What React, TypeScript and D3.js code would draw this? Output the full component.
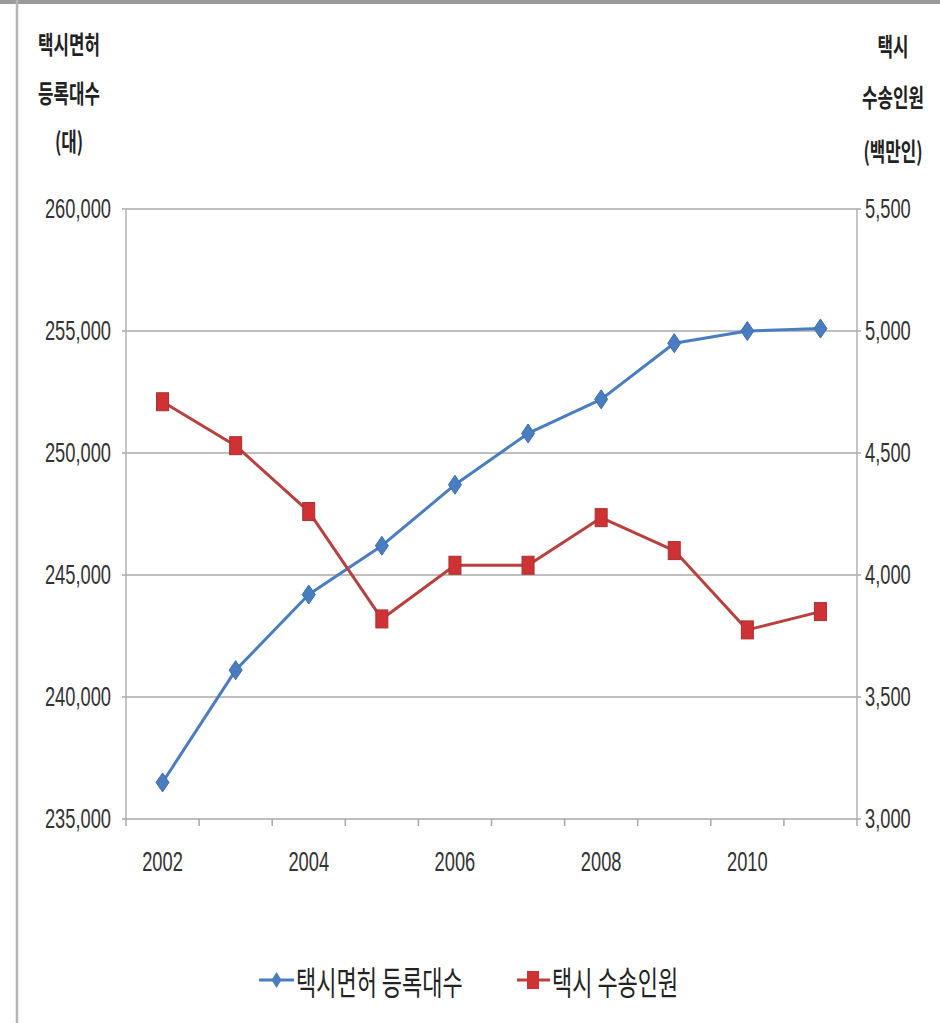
import React from "react";
import * as d3 from "d3";

const years = [2002, 2003, 2004, 2005, 2006, 2007, 2008, 2009, 2010, 2011];
const yearLabels = [2002, 2004, 2006, 2008, 2010];
const registered = [236500, 241100, 244200, 246200, 248700, 250800, 252200, 254500, 255000, 255100];
const passengers = [4710, 4530, 4260, 3820, 4040, 4040, 4235, 4100, 3775, 3850];
const leftTicks = [235000, 240000, 245000, 250000, 255000, 260000];
const rightTicks = [3000, 3500, 4000, 4500, 5000, 5500];
const leftTitle = ["택시면허", "등록대수", "(대)"];
const rightTitle = ["택시", "수송인원", "(백만인)"];
const seriesNames = ["택시면허 등록대수", "택시 수송인원"];

const W = 940;
const H = 1023;
const plot = { left: 126, right: 857, top: 209, bottom: 819 };
const SY = 1.5;
const NUM_FONT = "'Liberation Sans', Arial, sans-serif";
const KR_FONT = "'Noto Sans CJK KR', 'Noto Sans', sans-serif";
const BLUE = "#4a7cc0";
const RED_LINE = "#b8403f";
const RED = "#cf3234";

function T({ x, y, anchor = "middle", size, font, children, fill = "#333", weight = "normal" }: any) {
  return (
    <text
      transform={`translate(${x},${y}) scale(1,${SY})`}
      textAnchor={anchor}
      dominantBaseline="central"
      fontSize={size}
      fontFamily={font}
      fontWeight={weight}
      fill={fill}
    >
      {children}
    </text>
  );
}

export default function App() {
  const x = d3.scaleBand<number>().domain(years).range([plot.left, plot.right]);
  const yL = d3.scaleLinear().domain([235000, 260000]).range([plot.bottom, plot.top]);
  const yR = d3.scaleLinear().domain([3000, 5500]).range([plot.bottom, plot.top]);
  const cx = (yr: number) => (x(yr) as number) + x.bandwidth() / 2;
  const fmt = d3.format(",");

  const lineL = d3
    .line<number>()
    .x((_, i) => cx(years[i]))
    .y((d) => yL(d));
  const lineR = d3
    .line<number>()
    .x((_, i) => cx(years[i]))
    .y((d) => yR(d));

  const boundaries = years.map((yr) => x(yr) as number).concat([plot.right]);

  const diamond = (px: number, py: number, w = 6, h = 9) =>
    `M${px},${py - h}L${px + w},${py}L${px},${py + h}L${px - w},${py}Z`;

  return (
    <div style={{ position: "absolute", left: 0, top: 0 }}>
      <svg width={W} height={H} style={{ display: "block", background: "#fff" }}>
        <rect x={0} y={0} width={W} height={H} fill="#fff" />
        {/* frame */}
        <line x1={0} x2={W} y1={2} y2={2} stroke="#9a9a9a" strokeWidth={4} />
        <line x1={17} x2={17} y1={0} y2={H} stroke="#b5b5b5" strokeWidth={2.5} />

        {/* gridlines */}
        {leftTicks.map((t) => (
          <line
            key={t}
            x1={plot.left - 4}
            x2={plot.right + 4}
            y1={yL(t)}
            y2={yL(t)}
            stroke="#a8a8a8"
            strokeWidth={1.5}
          />
        ))}
        {/* axes */}
        <line x1={plot.left} x2={plot.left} y1={plot.top} y2={plot.bottom} stroke="#b0b0b0" strokeWidth={1.5} />
        <line x1={plot.right} x2={plot.right} y1={plot.top} y2={plot.bottom} stroke="#b0b0b0" strokeWidth={1.5} />
        {boundaries.map((b, i) => (
          <line key={i} x1={b} x2={b} y1={plot.bottom} y2={plot.bottom + 7} stroke="#a8a8a8" strokeWidth={1.5} />
        ))}

        {/* tick labels */}
        {leftTicks.map((t) => (
          <T key={t} x={111} y={yL(t)} anchor="end" size={18.3} font={NUM_FONT}>
            {fmt(t)}
          </T>
        ))}
        {rightTicks.map((t) => (
          <T key={t} x={865} y={yR(t)} anchor="start" size={18.3} font={NUM_FONT}>
            {fmt(t)}
          </T>
        ))}
        {yearLabels.map((yr) => (
          <T key={yr} x={cx(yr)} y={862} size={18.3} font={NUM_FONT}>
            {yr}
          </T>
        ))}

        {/* axis titles */}
        {leftTitle.map((s, i) => (
          <T key={s} x={69} y={[43, 92, 140][i]} size={16.8} font={KR_FONT} fill="#222" weight="bold">
            {s}
          </T>
        ))}
        {rightTitle.map((s, i) => (
          <T key={s} x={893} y={[45, 96, 150][i]} size={16.8} font={KR_FONT} fill="#222" weight="bold">
            {s}
          </T>
        ))}

        {/* series */}
        <path d={lineL(registered) || ""} fill="none" stroke={BLUE} strokeWidth={3} strokeLinejoin="round" />
        {registered.map((v, i) => (
          <path key={i} d={diamond(cx(years[i]), yL(v), 6.5, 9.5)} fill={BLUE} stroke="#3f6fb0" strokeWidth={1} />
        ))}
        <path d={lineR(passengers) || ""} fill="none" stroke={RED_LINE} strokeWidth={3} strokeLinejoin="round" />
        {passengers.map((v, i) => (
          <rect
            key={i}
            x={cx(years[i]) - 6}
            y={yR(v) - 9}
            width={12}
            height={18}
            fill={RED}
            stroke="#a83030"
            strokeWidth={1}
          />
        ))}

        {/* legend */}
        <line x1={259} x2={294} y1={980} y2={980} stroke={BLUE} strokeWidth={3} />
        <path d={diamond(276.5, 980, 5, 8)} fill={BLUE} />
        <T x={296} y={980} anchor="start" size={22} font={KR_FONT} fill="#222">
          {seriesNames[0]}
        </T>
        <line x1={517} x2={550} y1={980} y2={980} stroke={RED_LINE} strokeWidth={3} />
        <rect x={527} y={971} width={12} height={18} fill={RED} />
        <T x={552} y={980} anchor="start" size={22} font={KR_FONT} fill="#222">
          {seriesNames[1]}
        </T>
      </svg>
    </div>
  );
}
